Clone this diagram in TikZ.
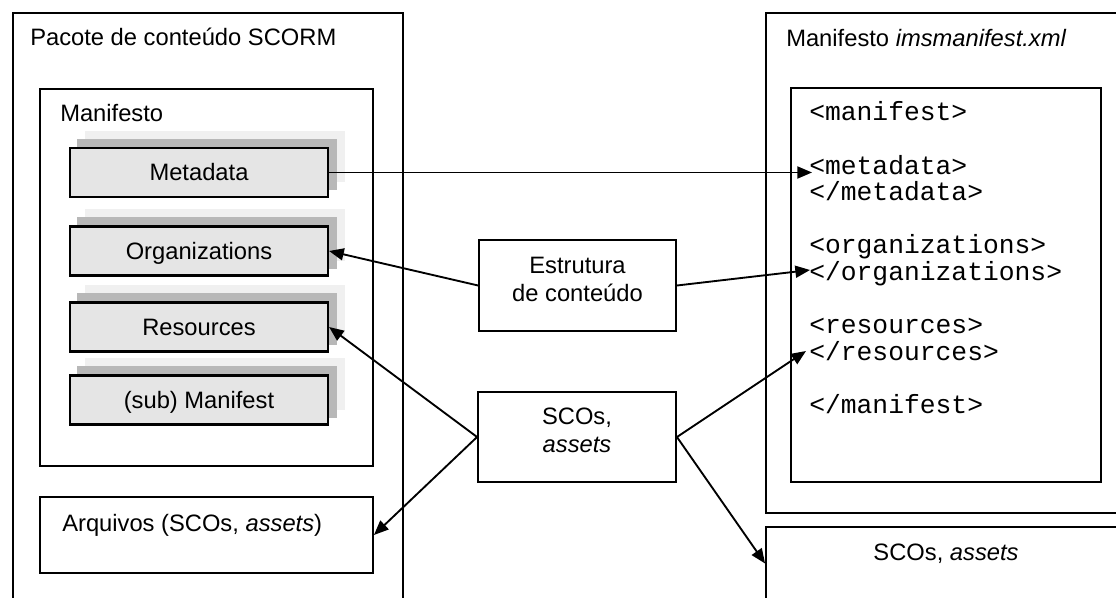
\documentclass[tikz,border=0pt]{standalone}
\usepackage{fontspec}
\setmainfont{Liberation Sans}
\newfontfamily\codefont{Liberation Mono}
\usetikzlibrary{arrows.meta,backgrounds}
\def\PX{0.75pt}
\tikzset{
  sans/.style={font=\fontsize{17.8}{21}\selectfont},
  frontbox/.style={draw, line width=1.6pt, fill=black!10, minimum width=258*\PX, minimum height=49*\PX, inner sep=0pt, sans, text height=12.7pt, text depth=0pt},
  plainbox/.style={draw, line width=1.4pt, inner sep=0pt},
  lbl/.style={anchor=base west, inner sep=0pt, sans},
  codeline/.style={anchor=base west, inner sep=0pt, font=\codefont\fontsize{19.75}{19.95}\selectfont},
  arr/.style={-{Triangle[length=11pt,width=9pt]}, line width=1.4pt},
}
\begin{document}
\begin{tikzpicture}[x=0.75pt,y=-0.75pt]
\useasboundingbox (0,0) rectangle (1116,598);
\clip (0,0) rectangle (1116,598);
% left container
\node[plainbox, minimum width=390*\PX, minimum height=627*\PX] (pkg) at (208,326.5) {};
\node[lbl] (pkglbl) at (30,46) {Pacote de conteúdo SCORM};
\node[plainbox, minimum width=333*\PX, minimum height=377*\PX] (man) at (206.5,277.5) {};
\node[lbl] (manlbl) at (60,122) {Manifesto};
\node[frontbox] (meta) at (199,172.5) {Metadata};
\node[frontbox] (orgs) at (199,251) {Organizations};
\node[frontbox] (res) at (199,327) {Resources};
\node[frontbox] (sub) at (199,400) {(sub) Manifest};
\begin{scope}[on background layer]
\foreach \n in {meta,orgs,res,sub}{
  \fill[black!6] ([shift={(16,-16)}]\n.south west) rectangle ([shift={(16,-16)}]\n.north east);
  \fill[black!28] ([shift={(8,-8)}]\n.south west) rectangle ([shift={(8,-8)}]\n.north east);
}
\end{scope}
\node[plainbox, minimum width=333*\PX, minimum height=76*\PX] (arq) at (206.5,535) {};
\node[lbl] (arqlbl) at (62,531) {Arquivos (SCOs, \textit{assets})};
% middle boxes
\node[plainbox, minimum width=197*\PX, minimum height=91*\PX] (estr) at (577.5,285.5) {};
\node[sans, align=center, inner sep=0pt] (estrlbl) at (577.5,279) {Estrutura\\de conteúdo};
\node[plainbox, minimum width=198*\PX, minimum height=90*\PX] (scos) at (577,437) {};
\node[sans, align=center, inner sep=0pt] (scoslbl) at (577,430) {SCOs,\\\textit{assets}};
% right container
\node[plainbox, minimum width=364*\PX, minimum height=500*\PX] (xml) at (948,263) {};
\node[lbl] (xmllbl) at (786,47) {Manifesto \textit{imsmanifest.xml}};
\node[plainbox, minimum width=310*\PX, minimum height=394*\PX] (code) at (946,285) {};
\node[codeline] (c1) at (809,121) {<manifest>};
\node[codeline] (c2) at (809,174.2) {<metadata>};
\node[codeline] (c3) at (809,200.8) {</metadata>};
\node[codeline] (c4) at (809,254) {<organizations>};
\node[codeline] (c5) at (809,280.6) {</organizations>};
\node[codeline] (c6) at (809,333.8) {<resources>};
\node[codeline] (c7) at (809,360.4) {</resources>};
\node[codeline] (c8) at (809,413.6) {</manifest>};
\node[plainbox, minimum width=360*\PX, minimum height=73*\PX] (scobox) at (946,563.5) {};
\node[sans, inner sep=0pt, anchor=base] (scoboxlbl) at (946,560) {SCOs, \textit{assets}};
% arrow targets
\coordinate (tmeta) at (812,172.5);
\coordinate (torg) at (810,270);
\coordinate (tres) at (806,351);
% arrows
\draw[arr] (meta.east) -- (tmeta);
\draw[arr] (estr.west) -- (orgs.east);
\draw[arr] (estr.east) -- (torg);
\draw[arr] (scos.west) -- (res.east);
\draw[arr] (scos.west) -- (arq.east);
\draw[arr] (scos.east) -- (tres);
\draw[arr] (scos.east) -- (scobox.west);
\end{tikzpicture}
\end{document}
